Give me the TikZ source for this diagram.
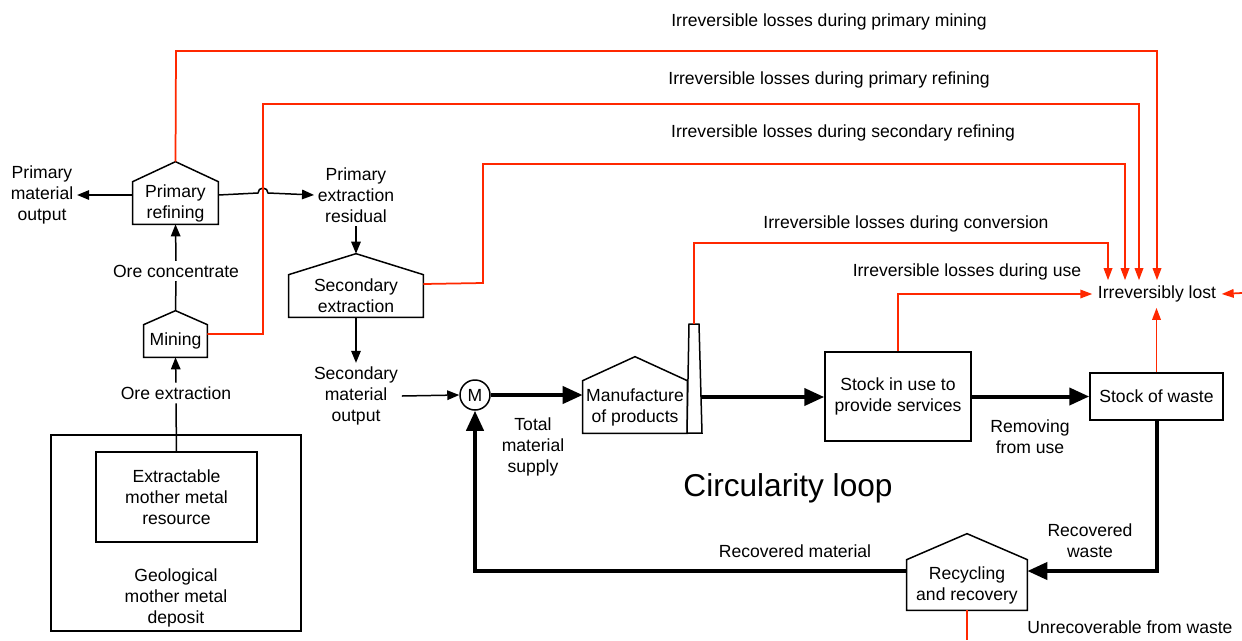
\documentclass[tikz,border=0pt]{standalone}
\usepackage{fontspec}
\setmainfont{Liberation Sans}
\usetikzlibrary{arrows.meta}

\definecolor{lossRed}{RGB}{255,40,0}

\begin{document}
\begin{tikzpicture}[x=0.02cm, y=-0.02cm, font=\fontsize{10}{12}\selectfont]
\tikzstyle{myBox} =
[
	shape			= rectangle,		% shape
	draw			= black,			% colour of the border
	line width		= 0.03cm,			% thickness of the border
	align			= center,			% multi-line text
	inner sep		= 0pt				% size comes from minimum width/height
]
\tikzstyle{myHouse} =
[
	shape			= rectangle,		% body only, roof is drawn afterwards
	align			= center,			% multi-line text
	inner sep		= 0pt				% size comes from minimum width/height
]
\tikzstyle{myLabel} =
[
	align			= center,			% multi-line text
	inner sep		= 2pt,				% gap btw text and the connectors
	yshift			= -0.04cm			% text sits a little low
]
\tikzstyle{myLine}  = [line width = 0.03cm, line join = miter]
\tikzstyle{myFlow}  = [myLine, -{Triangle[length=0.24cm, width=0.19cm]}]
\tikzstyle{myThick} = [line width = 0.08cm, line join = miter, -{Triangle[length=0.4cm, width=0.34cm]}]
\tikzstyle{myLoss}  = [draw = lossRed, line width = 0.035cm, line join = miter, -{Triangle[length=0.24cm, width=0.17cm]}]

\useasboundingbox (0,0) rectangle (1242,640);

% processes
\node (refining) [myHouse, minimum width = 1.7cm,  minimum height = 0.84cm] at (175.5,203) {Primary\\refining};
\node (mining)   [myHouse, minimum width = 1.26cm, minimum height = 0.64cm] at (175.5,341) {Mining};
\node (secext)   [myHouse, minimum width = 2.68cm, minimum height = 0.84cm] at (356,296) {Secondary\\extraction};
\node (manuf)    [myHouse, minimum width = 2.08cm, minimum height = 1.04cm] at (635,407) {Manufacture\\of products};
\node (recyc)    [myHouse, minimum width = 2.4cm,  minimum height = 1cm]    at (967,585) {Recycling\\and recovery};
\foreach \house/\roof in {refining/0.4cm, mining/0.28cm, secext/0.42cm, manuf/0.48cm, recyc/0.52cm}
{
	\coordinate (\house-top) at ([yshift=\roof]\house.north);
	\draw [myLine] (\house.north west) -- (\house-top) -- (\house.north east) -- (\house.south east) -- (\house.south west) -- cycle;
}
\draw [myLine, fill = white] (687,433) -- (689,324) -- (699,324) -- (702,433) -- cycle;
\coordinate (chimney-top) at (694,324);
\coordinate (chimney-out) at (701,397);

% stocks
\node (geo)      [myBox, minimum width = 5cm,    minimum height = 3.92cm] at (176,533) {};
\node (resource) [myBox, minimum width = 3.22cm, minimum height = 1.8cm]  at (176.5,497) {Extractable\\mother metal\\resource};
\node (use)      [myBox, minimum width = 2.92cm, minimum height = 1.78cm] at (898,396.5) {Stock in use to\\provide services};
\node (waste)    [myBox, minimum width = 2.66cm, minimum height = 0.94cm] at (1156.5,396.5) {Stock of waste};
\node (M) [circle, draw, line width = 0.03cm, minimum size = 0.6cm, inner sep = 0pt] at (475,395) {M};

% labels
\node (deposit)  [myLabel] at (176,596)    {Geological\\mother metal\\deposit};
\node (primout)  [myLabel] at (42,193)     {Primary\\material\\output};
\node (resid)    [myLabel] at (356,193)    {Primary\\extraction\\residual};
\node (orecon)   [myLabel] at (176,269)    {Ore concentrate};
\node (oreext)   [myLabel] at (176,391)    {Ore extraction};
\node (secout)   [myLabel] at (356,394)    {Secondary\\material\\output};
\node (supply)   [myLabel] at (533,445)    {Total\\material\\supply};
\node (removing) [myLabel] at (1030,434.5) {Removing\\from use};
\node (recwaste) [myLabel] at (1090,538.5) {Recovered\\waste};
\node (recmat)   [myLabel] at (795,549)    {Recovered material};
\node (unrec)    [myLabel] at (1130,625)   {Unrecoverable from waste};
\node (lost)     [myLabel, inner sep = 3pt] at (1157,292) {Irreversibly lost};
\node (loop) [myLabel, font = \fontsize{18}{22}\selectfont] at (788,486) {Circularity loop};

\node (lossMining)    [myLabel] at (829,20)  {Irreversible losses during primary mining};
\node (lossRefining)  [myLabel] at (829,78)  {Irreversible losses during primary refining};
\node (lossSecondary) [myLabel] at (843,131) {Irreversible losses during secondary refining};
\node (lossConv)      [myLabel] at (906,222) {Irreversible losses during conversion};
\node (lossUse)       [myLabel] at (967,270) {Irreversible losses during use};

\coordinate (right-edge)  at (1242,293);
\coordinate (bottom-edge) at (967,640);

% primary route
\draw [myLine] (resource.north) -- (oreext.south);
\draw [myFlow] (oreext.north) -- (mining.south);
\draw [myLine] (mining-top) -- (orecon.south);
\draw [myFlow] (orecon.north) -- (refining.south);
\draw [myFlow] (primout.east -| refining.west) -- (primout.east);
\draw [myFlow] (resid.west -| refining.east) -- (258,193) arc (180:0:0.1cm) -- (resid.west);
\draw [myFlow] (resid.south) -- (secext-top);
\draw [myFlow] (secext.south) -- (secout.north);
\draw [myFlow] (secout.east) -- (M.west);

% circularity loop
\draw [myThick] (M.east) -- (M.east -| manuf.west);
\draw [myThick] (chimney-out) -- (chimney-out -| use.west);
\draw [myThick] (use.east) -- (waste.west);
\draw [myThick] (waste.south) |- ([yshift=0.28cm]recyc.east);
\draw [myThick] ([yshift=0.28cm]recyc.west) -| (M.south);

% losses
\draw [myLoss] (refining-top) -- (176,51) -| (lost.north);
\draw [myLoss] ([yshift=0.14cm]mining.east) -- (263,334) -- (263,104) -| ([xshift=-0.36cm]lost.north);
\draw [myLoss] ([yshift=0.24cm]secext.east) -- (483,283) -- (483,164) -| ([xshift=-0.64cm]lost.north);
\draw [myLoss] (chimney-top) -- (694,243) -| ([xshift=-0.98cm]lost.north);
\draw [myLoss] (use.north) |- (lost.west);
\draw [myLoss] (waste.north) -- (waste.north |- lost.south);
\draw [myLoss] (right-edge) -- (lost.east);
\draw [myLoss, -] (recyc.south) -- (bottom-edge);
\end{tikzpicture}
\end{document}
